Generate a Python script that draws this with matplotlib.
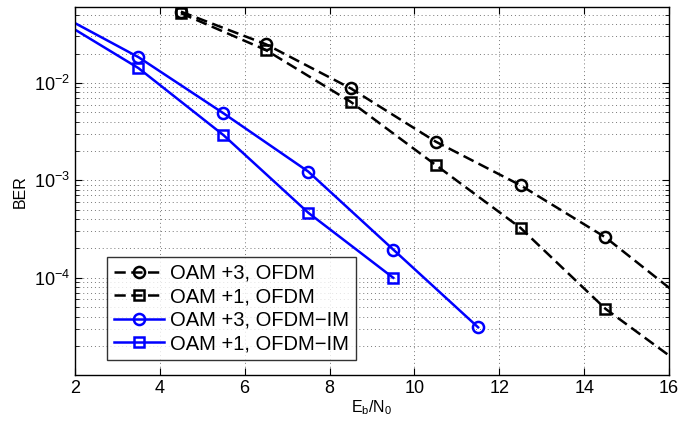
import numpy as np
import matplotlib
matplotlib.use('Agg')
import matplotlib.pyplot as plt

plt.rcParams['font.family'] = ['Liberation Sans', 'DejaVu Sans']
plt.rcParams['mathtext.default'] = 'regular'

# Eb/N0 (dB) and BER
x_ofdm = [4.5, 6.5, 8.5, 10.5, 12.5, 14.5, 16.5]
ber_oam3_ofdm = [0.054, 0.025, 0.0088, 0.0025, 0.00089, 0.00026, 5.3e-5]
ber_oam1_ofdm = [0.052, 0.0218, 0.0064, 0.00144, 0.000325, 4.8e-5, 1.1e-5]

x_im3 = [1.5, 3.5, 5.5, 7.5, 9.5, 11.5]
ber_oam3_im = [0.054, 0.0184, 0.00489, 0.00123, 0.000195, 3.1e-5]
x_im1 = [1.5, 3.5, 5.5, 7.5, 9.5]
ber_oam1_im = [0.048, 0.0142, 0.00292, 0.000465, 0.0001]

labels = ['OAM +3, OFDM', 'OAM +1, OFDM', 'OAM +3, OFDM\u2212IM', 'OAM +1, OFDM\u2212IM']

fig = plt.figure(figsize=(6.8, 4.22), dpi=100)
ax = fig.add_axes([0.110, 0.111, 0.874, 0.872])

blue = '#0000ff'
dash = dict(dashes=(4.5, 2.2))
ax.semilogy(x_ofdm, ber_oam3_ofdm, 'k--o', lw=1.8, ms=8, mew=1.8, mfc='none', label=labels[0], **dash)
ax.semilogy(x_ofdm, ber_oam1_ofdm, 'k--s', lw=1.8, ms=7, mew=1.8, mfc='none', label=labels[1], **dash)
ax.semilogy(x_im3, ber_oam3_im, '-o', color=blue, lw=1.8, ms=8, mew=1.8, mfc='none', label=labels[2])
ax.semilogy(x_im1, ber_oam1_im, '-s', color=blue, lw=1.8, ms=7, mew=1.8, mfc='none', label=labels[3])

ax.set_xlim(2, 16)
ax.set_ylim(1e-5, 0.06)
ax.set_xticks([2, 4, 6, 8, 10, 12, 14, 16])
ax.set_yticks([1e-4, 1e-3, 1e-2])
grid_style = dict(ls=(0, (1, 3)), color='#777777', lw=0.7)
ax.grid(True, which='major', **grid_style)
ax.grid(True, which='minor', axis='y', **grid_style)
ax.tick_params(which='both', direction='in', top=True, right=True, labelsize=13)
ax.tick_params(which='major', length=5)
ax.tick_params(which='minor', length=3)
for s in ax.spines.values():
    s.set_linewidth(1.0)

ax.set_xlabel(r'E$_b$/N$_0$', fontsize=11.5, labelpad=1)
ax.set_ylabel('BER', fontsize=11.5, labelpad=4)

leg = ax.legend(loc='lower left', bbox_to_anchor=(0.054, 0.041), fontsize=14.5,
                frameon=True, fancybox=False, edgecolor='black', borderpad=0.35,
                labelspacing=0.22, handlelength=2.5, handletextpad=0.3, borderaxespad=0)
leg.get_frame().set_linewidth(1.0)

fig.savefig('out.png', dpi=100)
